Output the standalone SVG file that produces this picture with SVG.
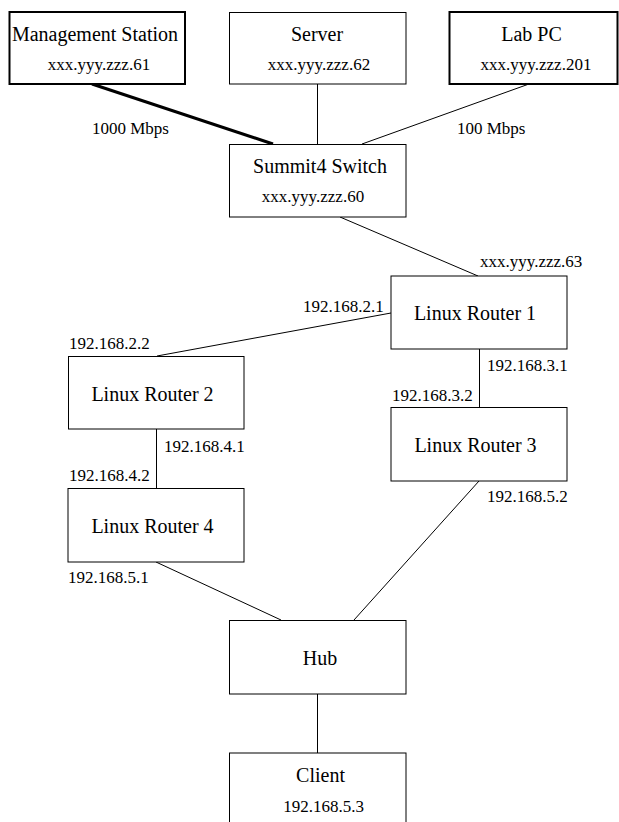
<svg xmlns="http://www.w3.org/2000/svg" width="619" height="822" viewBox="0 0 619 822">
<style>
.box{fill:#fff;stroke:#000;stroke-width:1}
.thick{stroke-width:2}
text{font-family:"Liberation Serif",Tinos,"Times New Roman",Times,"DejaVu Serif",serif;fill:#000}
.main{font-size:20px;text-anchor:middle}
.sub{font-size:17px;text-anchor:middle}
.lbl{font-size:17px}
.ln{stroke:#000;stroke-width:1;fill:none}
</style>
<rect width="619" height="822" fill="#fff"/>
<g id="connectors">
<line class="ln" x1="92" y1="84" x2="273" y2="144" style="stroke-width:3"/>
<line class="ln" x1="317.5" y1="84" x2="317.5" y2="144"/>
<line class="ln" x1="529" y1="84" x2="362" y2="144"/>
<line class="ln" x1="340" y1="217" x2="478" y2="276"/>
<line class="ln" x1="391" y1="313" x2="157" y2="356"/>
<line class="ln" x1="479.5" y1="349" x2="479.5" y2="407"/>
<line class="ln" x1="156.5" y1="429" x2="156.5" y2="488"/>
<line class="ln" x1="479" y1="481" x2="354" y2="620"/>
<line class="ln" x1="156" y1="562" x2="281" y2="620"/>
<line class="ln" x1="317.5" y1="694" x2="317.5" y2="753"/>
<text class="lbl" x="92" y="134" font-family="Liberation Serif, serif">1000 Mbps</text>
<text class="lbl" x="457" y="134" font-family="Liberation Serif, serif">100 Mbps</text>
<text class="lbl" x="480" y="267" font-family="Liberation Serif, serif">xxx.yyy.zzz.63</text>
<text class="lbl" x="303" y="312" font-family="Liberation Serif, serif">192.168.2.1</text>
<text class="lbl" x="69" y="349" font-family="Liberation Serif, serif">192.168.2.2</text>
<text class="lbl" x="487" y="371" font-family="Liberation Serif, serif">192.168.3.1</text>
<text class="lbl" x="392" y="401" font-family="Liberation Serif, serif">192.168.3.2</text>
<text class="lbl" x="164" y="452" font-family="Liberation Serif, serif">192.168.4.1</text>
<text class="lbl" x="69" y="481" font-family="Liberation Serif, serif">192.168.4.2</text>
<text class="lbl" x="487" y="502" font-family="Liberation Serif, serif">192.168.5.2</text>
<text class="lbl" x="68" y="583" font-family="Liberation Serif, serif">192.168.5.1</text>
</g>
<g id="mgmt">
<rect class="box thick" x="9.5" y="12" width="175.5" height="72"/>
<text class="main" x="95" y="41">Management Station</text>
<text class="sub" x="99" y="70">xxx.yyy.zzz.61</text>
</g>
<g id="server">
<rect class="box" x="229.5" y="12.5" width="176.5" height="71.5"/>
<text class="main" x="317" y="41">Server</text>
<text class="sub" x="319" y="70">xxx.yyy.zzz.62</text>
</g>
<g id="labpc">
<rect class="box thick" x="449.5" y="12" width="168" height="72"/>
<text class="main" x="531.5" y="41">Lab PC</text>
<text class="sub" x="536" y="70">xxx.yyy.zzz.201</text>
</g>
<g id="switch">
<rect class="box" x="229.5" y="144.5" width="176.5" height="72.5"/>
<text class="main" x="320" y="173">Summit4 Switch</text>
<text class="sub" x="313" y="202">xxx.yyy.zzz.60</text>
</g>
<g id="router1">
<rect class="box" x="391" y="276" width="176" height="73"/>
<text class="main" x="475" y="320">Linux Router 1</text>
</g>
<g id="router2">
<rect class="box" x="68.5" y="356.5" width="175.5" height="72.5"/>
<text class="main" x="152.5" y="401">Linux Router 2</text>
</g>
<g id="router3">
<rect class="box" x="391" y="407.5" width="176" height="73.5"/>
<text class="main" x="475.5" y="452">Linux Router 3</text>
</g>
<g id="router4">
<rect class="box" x="68" y="488.5" width="176" height="73.5"/>
<text class="main" x="152.5" y="533">Linux Router 4</text>
</g>
<g id="hub">
<rect class="box" x="229.5" y="620.5" width="176.5" height="73.5"/>
<text class="main" x="320" y="665">Hub</text>
</g>
<g id="client">
<rect class="box" x="229.5" y="753" width="176.5" height="80"/>
<text class="main" x="320.5" y="782">Client</text>
<text class="sub" x="323.5" y="812">192.168.5.3</text>
</g>
</svg>
